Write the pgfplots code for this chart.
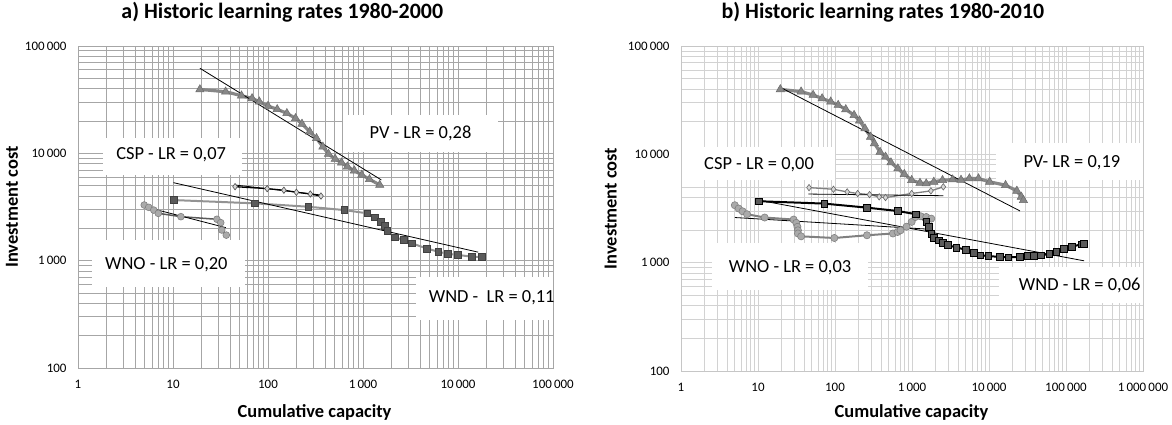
\documentclass[border=0pt]{standalone}
\usepackage{fontspec}
\setmainfont{Carlito}
\usepackage{pgfplots}
\pgfplotsset{compat=1.18}

\definecolor{pvgray}{RGB}{135,135,135}
\definecolor{wndfill}{RGB}{90,90,90}
\definecolor{wnofill}{RGB}{170,170,170}
\definecolor{cspfill}{RGB}{215,215,215}

\tikzset{
  boxlab/.style={font=\fontsize{18.5}{22}\selectfont, inner sep=0pt},
  pvline/.style={pvgray, line width=3.2bp, mark=triangle*, mark size=4.8bp,
    mark options={fill=pvgray, draw=pvgray!80!black, line width=0.5bp}},
  fitline/.style={black, line width=0.8bp},
}

\begin{document}
\begin{tikzpicture}
\useasboundingbox (0,0) rectangle (1172bp,425bp);

% ---------- a) 1980-2000
\begin{axis}[
  xmode=log, ymode=log, scale only axis,
  at={(78bp,57bp)}, anchor=south west,
  width=475bp, height=322bp,
  xmin=1, xmax=100000, ymin=100, ymax=100000,
  xtick={1,10,100,1000,10000,100000},
  xticklabels={1,10,100,1\,000,10\,000,100\,000},
  ytick={100,1000,10000,100000},
  yticklabels={100,1\,000,10\,000,100\,000},
  grid=both,
  tick style={draw=none},
  ticklabel style={font=\fontsize{13}{15}\selectfont},
  yticklabel style={xshift=-8bp},
  xticklabel style={yshift=-9bp},
  label style={font=\bfseries\fontsize{18.5}{22}\selectfont},
  title style={font=\bfseries\fontsize{22}{26}\selectfont, anchor=center, at={(0.43,1.087)}},
  grid style={draw=gray!70, line width=0.8bp},
  minor grid style={draw=gray!70, line width=0.8bp},
  axis line style={draw=gray!70, line width=0.8bp},
  title={a) Historic learning rates 1980-2000},
  xlabel={Cumulative capacity},
  ylabel={Investment cost},
  xlabel style={at={(0.498,-0.137)}, anchor=center},
  ylabel style={at={(-0.139,0.5)}, anchor=center},
]
\fill[white] (rel axis cs:0.558,0.671) rectangle (rel axis cs:0.885,0.786);
\fill[white] (rel axis cs:0.052,0.599) rectangle (rel axis cs:0.346,0.714);
\fill[white] (rel axis cs:0.029,0.252) rectangle (rel axis cs:0.351,0.398);
\fill[white] (rel axis cs:0.711,0.149) rectangle (rel axis cs:1.0,0.283);
\node[boxlab] at (rel axis cs:0.721,0.730) {PV - LR = 0,28};
\node[boxlab] at (rel axis cs:0.196,0.661) {CSP - LR = 0,07};
\node[boxlab] at (rel axis cs:0.186,0.320) {WNO - LR = 0,20};
\node[boxlab] at (rel axis cs:0.871,0.217) {WND -\ \ LR = 0,11};

% PV
\addplot[pvline] coordinates {
 (19.2,39400) (35.8,37500) (52.6,34400) (68,32500) (81,30300) (100,27600)
 (125,25700) (158,23600) (195,21200) (228,18800) (275,15900) (324,13800)
 (378,11500) (433,9870) (510,8850) (595,8180) (685,7510) (811,6900)
 (970,6290) (1170,5730) (1500,5070)};
% WND
\addplot[gray!85!white, line width=2bp, mark=square*, mark size=3.4bp,
  mark options={fill=wndfill, draw=black!75, line width=0.6bp}] coordinates {
 (10.1,3670) (72.6,3420) (265,3180) (636,2960) (1110,2760) (1340,2530)
 (1530,2310) (1680,2100) (1800,1900) (2150,1650) (2700,1560) (3250,1450)
 (4700,1300) (6200,1210) (7800,1160) (10000,1130) (13900,1090) (17700,1080)};
% CSP
\addplot[black, line width=1.3bp, mark=diamond*, mark size=3.2bp,
  mark options={fill=cspfill, draw=black!70, line width=0.6bp}] coordinates {
 (45,4890) (98,4690) (147,4530) (199,4340) (279,4180) (361,4000)};
% WNO
\addplot[black!65, line width=1.5bp, mark=*, mark size=3.4bp,
  mark options={fill=wnofill, draw=gray, line width=0.6bp}] coordinates {
 (4.98,3300) (5.55,3140) (6.27,2960) (7.0,2760) (12.1,2570) (29,2430)
 (31.8,2260) (32.6,1930) (36.4,1730)};
% trend lines
\addplot[fitline, mark=none] coordinates {(19.2,62000) (1560,5650)};
\addplot[fitline, mark=none] coordinates {(45,5070) (361,4090)};
\addplot[fitline, mark=none] coordinates {(10.1,5330) (16300,1200)};
\addplot[fitline, mark=none] coordinates {(4.98,3190) (36,2030)};
\end{axis}

% ---------- b) 1980-2010
\begin{axis}[
  xmode=log, ymode=log, scale only axis,
  at={(681bp,54bp)}, anchor=south west,
  width=462bp, height=325bp,
  xmin=1, xmax=1000000, ymin=100, ymax=100000,
  xtick={1,10,100,1000,10000,100000,1000000},
  xticklabels={1,10,100,1\,000,10\,000,100\,000,1\,000\,000},
  ytick={100,1000,10000,100000},
  yticklabels={100,1\,000,10\,000,100\,000},
  grid=both,
  tick style={draw=none},
  ticklabel style={font=\fontsize{13}{15}\selectfont},
  yticklabel style={xshift=-8bp},
  xticklabel style={yshift=-9bp},
  label style={font=\bfseries\fontsize{18.5}{22}\selectfont},
  title style={font=\bfseries\fontsize{22}{26}\selectfont, anchor=center, at={(0.437,1.086)}},
  grid style={draw=gray!35, line width=0.8bp},
  minor grid style={draw=gray!35, line width=0.8bp},
  axis line style={draw=gray!45, line width=0.8bp},
  title={b) Historic learning rates 1980-2010},
  xlabel={Cumulative capacity},
  ylabel={Investment cost},
  xlabel style={at={(0.499,-0.129)}, anchor=center},
  ylabel style={at={(-0.152,0.5)}, anchor=center},
]
\fill[white] (rel axis cs:0.002,0.588) rectangle (rel axis cs:0.333,0.689);
\fill[white] (rel axis cs:0.682,0.588) rectangle (rel axis cs:1.0,0.702);
\fill[white] (rel axis cs:0.067,0.249) rectangle (rel axis cs:0.405,0.394);
\fill[white] (rel axis cs:0.689,0.209) rectangle (rel axis cs:1.0,0.320);
\node[boxlab] at (rel axis cs:0.169,0.634) {CSP - LR = 0,00};
\node[boxlab] at (rel axis cs:0.846,0.640) {PV- LR = 0,19};
\node[boxlab] at (rel axis cs:0.236,0.317) {WNO - LR = 0,03};
\node[boxlab] at (rel axis cs:0.863,0.262) {WND - LR = 0,06};

% PV
\addplot[pvline] coordinates {
 (19.5,39800) (36.3,37900) (52,35300) (68,32800) (88,30600) (110,28500)
 (138,26000) (177,23000) (208,20400) (245,17300) (290,14500) (325,12600)
 (385,10500) (453,9480) (533,8400) (655,7390) (795,6560) (990,5770)
 (1270,5440) (1530,5370) (1920,5570) (2490,5770) (3360,5850) (4330,5800)
 (5560,5980) (7300,5980) (10200,5570) (16400,5190) (23000,4600)
 (26300,4050) (28000,3770)};
% CSP
\addplot[gray, line width=1.3bp, mark=diamond*, mark size=3.2bp,
  mark options={fill=cspfill, draw=black!60, line width=0.6bp}] coordinates {
 (46,4930) (95.5,4760) (144,4500) (197,4350) (281,4250) (375,4050)
 (453,3990) (990,4350) (1760,4600) (2550,5010)};
% WNO
\addplot[gray, line width=2bp, mark=*, mark size=3.6bp,
  mark options={fill=wnofill, draw=gray, line width=0.6bp}] coordinates {
 (5.0,3390) (5.6,3160) (6.3,2980) (7.2,2800) (12.2,2610) (29,2500)
 (31.4,2330) (32.5,2140) (33,1990) (33,1860) (36.3,1750) (98,1690)
 (260,1790) (565,1860) (650,1920) (710,1990) (850,2150) (990,2380)
 (1110,2640) (1300,2680) (1530,2640) (1780,2550)};
% WND
\addplot[black, line width=2bp, mark=square*, mark size=3.4bp,
  mark options={fill=wndfill, draw=black, line width=0.6bp}] coordinates {
 (10.3,3690) (72.5,3510) (260,3220) (650,3000) (1130,2800) (1530,2380)
 (1650,2140) (1780,1850) (1930,1700) (2220,1610) (2540,1520) (2940,1450)
 (3760,1380) (4960,1320) (6400,1230) (7700,1170) (9800,1150) (13900,1130)
 (17800,1120) (25000,1130) (32000,1150) (38000,1160) (47000,1170)
 (60500,1200) (75000,1260) (94500,1350) (118000,1400) (158000,1480)
 (172000,1500)};
% trend lines
\addplot[fitline, mark=none] coordinates {(19.5,41500) (25300,3000)};
\addplot[fitline, mark=none] coordinates {(45,4300) (2550,4150)};
\addplot[fitline, mark=none] coordinates {(10.3,3770) (172000,1040)};
\addplot[fitline, mark=none] coordinates {(5.0,2610) (1800,2030)};
\end{axis}
\end{tikzpicture}
\end{document}
